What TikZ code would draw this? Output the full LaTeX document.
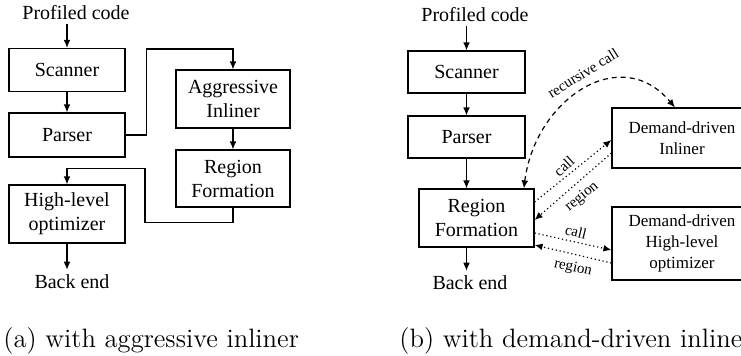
\documentclass[tikz,border=0pt]{standalone}
\usepackage{fontspec}
\newfontfamily\timesfont{Liberation Serif}
\usetikzlibrary{arrows.meta}

\begin{document}
\begin{tikzpicture}[x=0.5pt, y=-0.5pt,
    block/.style={draw=black, line width=0.6pt, inner sep=1pt, align=center,
        font=\timesfont\fontsize{10}{12}\selectfont},
    ddblock/.style={block, font=\timesfont\fontsize{8.5}{10.5}\selectfont},
    txt/.style={anchor=base, inner sep=2pt, font=\timesfont\fontsize{10}{12}\selectfont},
    lbl/.style={inner sep=0.5pt, font=\timesfont\fontsize{7.5}{9}\selectfont},
    subcap/.style={anchor=base west, inner sep=0pt, font=\fontsize{13.3}{15}\selectfont},
    flow/.style={line width=0.6pt, -{Latex[length=4pt, width=3.4pt]}},
    link/.style={flow, dash pattern=on 0.6pt off 1.4pt},
    recur/.style={line width=0.6pt, dash pattern=on 2.5pt off 2pt,
        {Latex[length=4pt, width=3.4pt]}-{Latex[length=4pt, width=3.4pt]}}
]
    \useasboundingbox (0,0) rectangle (741,355);
    \clip (0,0) rectangle (741,355);

    \node[txt] (prof_a) at (76,19) {Profiled code};
    \node[block, minimum width=58pt, minimum height=21.5pt] (scan_a) at (67,70) {Scanner};
    \node[block, minimum width=58pt, minimum height=22pt] (pars_a) at (67,135) {Parser};
    \node[block, minimum width=57pt, minimum height=29pt] (aggr) at (233,99) {Aggressive\\Inliner};
    \node[block, minimum width=57pt, minimum height=28.5pt] (regf_a) at (233,178.5) {Region\\Formation};
    \node[block, minimum width=58pt, minimum height=29pt] (hlo_a) at (67,214) {High-level\\optimizer};
    \node[txt] (back_a) at (72,288) {Back end};
    \draw[flow] (prof_a.south -| scan_a.north) -- (scan_a.north);
    \draw[flow] (scan_a) -- (pars_a);
    \draw[flow] (pars_a.east) -- ++(21,0) -- ++(0,-86) -| (aggr.north);
    \draw[flow] (aggr) -- (regf_a);
    \draw[flow] (regf_a.south) -- ++(0,15) -- ++(-88,0) -- ++(0,-54) -| (hlo_a.north);
    \draw[flow] (hlo_a.south) -- (hlo_a.south |- back_a.north);

    \node[txt] (prof_b) at (475,21) {Profiled code};
    \node[block, minimum width=58.5pt, minimum height=21pt] (scan_b) at (466.5,72) {Scanner};
    \node[block, minimum width=58.5pt, minimum height=21pt] (pars_b) at (466.5,137) {Parser};
    \node[block, minimum width=57.5pt, minimum height=29pt] (regf_b) at (476.5,218) {Region\\Formation};
    \node[txt] (back_b) at (470,289) {Back end};
    \node[ddblock, minimum width=70pt, minimum height=30pt] (ddinl) at (682,138) {Demand-driven\\Inliner};
    \node[ddblock, minimum width=70pt, minimum height=36.5pt] (ddhlo) at (682,243.5) {Demand-driven\\High-level\\optimizer};
    \draw[flow] (prof_b.south -| scan_b.north) -- (scan_b.north);
    \draw[flow] (scan_b) -- (pars_b);
    \draw[flow] (pars_b.south) -- (pars_b.south |- regf_b.north);
    \draw[flow] (pars_b.south |- regf_b.south) -- (pars_b.south |- back_b.north);

    \draw[recur] (regf_b.32) .. controls (535,100) and (620,42) .. (ddinl.103);
    \node[lbl, rotate=32] (rec_lbl) at (583,73) {recursive call};
    \draw[link] ([yshift=8pt]regf_b.east) -- ([yshift=-1pt]ddinl.west);
    \draw[link] ([yshift=-7.5pt]ddinl.west) -- ([yshift=-1pt]regf_b.east);
    \node[lbl, rotate=42] (call_inl) at (564,166) {call};
    \node[lbl, rotate=40] (reg_inl) at (582,197) {region};
    \draw[link] ([yshift=-7.5pt]regf_b.east) -- ([yshift=-3.25pt]ddhlo.west);
    \draw[link] ([yshift=-9.75pt]ddhlo.west) -- ([yshift=-13.5pt]regf_b.east);
    \node[lbl, rotate=-14] (call_hlo) at (576,232) {call};
    \node[lbl, rotate=-12] (reg_hlo) at (573,268) {region};

    \node[subcap] (cap_a) at (3,347) {(a) with aggressive inliner};
    \node[subcap] (cap_b) at (399,347) {(b) with demand-driven inliner};
\end{tikzpicture}
\end{document}
